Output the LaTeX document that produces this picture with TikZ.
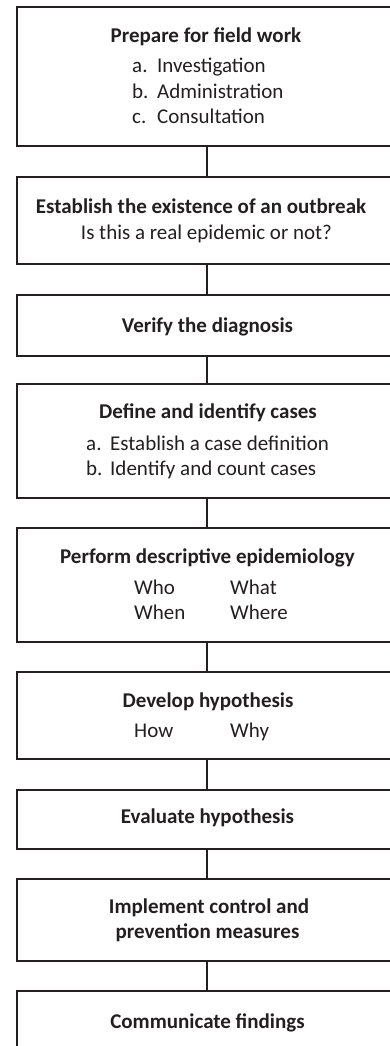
\documentclass[tikz,border=0pt]{standalone}
\usepackage{fontspec}
\setmainfont{Carlito}
\definecolor{ink}{RGB}{35,31,32}
\begin{document}
\begin{tikzpicture}[x=1pt,y=-1pt,
  box/.style={draw=ink,line width=2.6pt,minimum width=380pt,inner sep=0pt,outer sep=0pt},
  conn/.style={draw=ink,line width=2.6pt},
  ttl/.style={inner sep=0pt,anchor=base,text=ink,font=\fontsize{21}{25}\selectfont\bfseries},
  txt/.style={inner sep=0pt,anchor=base,text=ink,font=\fontsize{21}{25}\selectfont},
  lst/.style={inner sep=0pt,anchor=base west,text=ink,font=\fontsize{21}{25}\selectfont}]
\useasboundingbox (0,0) rectangle (390,1046);
\clip (0,0) rectangle (390,1046);
% boxes
\node[box,minimum height=139pt] (b1) at (207,76.5) {};
\node[box,minimum height=87pt]  (b2) at (207,220.5) {};
\node[box,minimum height=61pt]  (b3) at (207,325.5) {};
\node[box,minimum height=114pt] (b4) at (207,441) {};
\node[box,minimum height=114pt] (b5) at (207,585) {};
\node[box,minimum height=87pt]  (b6) at (207,715.5) {};
\node[box,minimum height=59pt]  (b7) at (207,819.5) {};
\node[box,minimum height=82pt]  (b8) at (207,920) {};
\node[box,minimum height=80pt]  (b9) at (207,1031) {};
% connectors
\draw[conn] (b1.south) -- (b2.north);
\draw[conn] (b2.south) -- (b3.north);
\draw[conn] (b3.south) -- (b4.north);
\draw[conn] (b4.south) -- (b5.north);
\draw[conn] (b5.south) -- (b6.north);
\draw[conn] (b6.south) -- (b7.north);
\draw[conn] (b7.south) -- (b8.north);
\draw[conn] (b8.south) -- (b9.north);
% texts
\node[ttl] (t1) at (206,43) {Prepare for field work};
\node[lst] (t1a) at (132,73) {\makebox[25pt][l]{a.}Investigation};
\node[lst] (t1b) at (132,99) {\makebox[25pt][l]{b.}Administration};
\node[lst] (t1c) at (132,124) {\makebox[25pt][l]{c.}Consultation};
\node[ttl] (t2) at (201,213) {Establish the existence of an outbreak};
\node[txt] (t2a) at (206.5,239) {Is this a real epidemic or not?};
\node[ttl] (t3) at (207.5,332) {Verify the diagnosis};
\node[ttl] (t4) at (208,418) {Define and identify cases};
\node[lst] (t4a) at (86,450) {\makebox[24pt][l]{a.}Establish a case definition};
\node[lst] (t4b) at (86,475) {\makebox[24pt][l]{b.}Identify and count cases};
\node[ttl] (t5) at (207.5,563) {Perform descriptive epidemiology};
\node[lst] (t5a) at (134,594) {Who};
\node[lst] (t5b) at (230,594) {What};
\node[lst] (t5c) at (134,619) {When};
\node[lst] (t5d) at (230,619) {Where};
\node[ttl] (t6) at (208,707) {Develop hypothesis};
\node[lst] (t6a) at (134,737) {How};
\node[lst] (t6b) at (230,737) {Why};
\node[ttl] (t7) at (207.5,823) {Evaluate hypothesis};
\node[ttl] (t8a) at (209,913) {Implement control and};
\node[ttl] (t8b) at (207.5,938) {prevention measures};
\node[ttl] (t9) at (207.5,1028) {Communicate findings};
\end{tikzpicture}
\end{document}
